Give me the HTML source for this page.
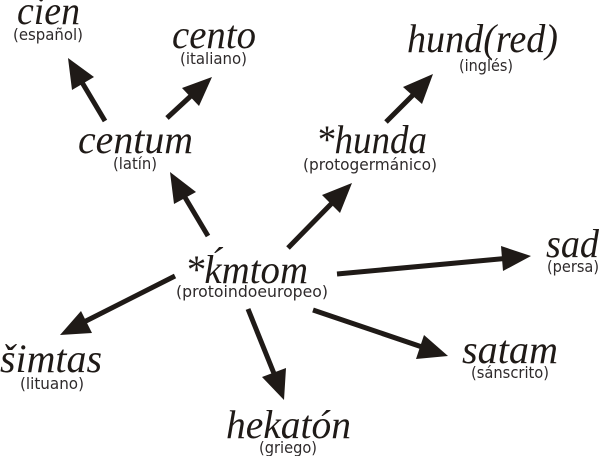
<!DOCTYPE html>
<html lang="es">
<head>
<meta charset="utf-8">
<style>
html,body{margin:0;padding:0;background:#fff;width:600px;height:456px;overflow:hidden}
svg{display:block}
.w{font-family:"Liberation Serif",serif;font-style:italic;font-size:40px;fill:#1f1a17}
.l{font-family:"DejaVu Sans",sans-serif;font-size:16px;fill:#2e2a2b}
.s{stroke:#1f1a17;stroke-width:5;fill:none}
.h{fill:#1f1a17}
</style>
</head>
<body>
<svg width="600" height="456" viewBox="0 0 600 456" xmlns="http://www.w3.org/2000/svg">
<g>
<line class="s" x1="105" y1="121" x2="80" y2="79"/><polygon class="h" points="68,58 72,90 94,77"/>
<line class="s" x1="167" y1="118" x2="193" y2="94"/><polygon class="h" points="212,77 182,88 199,106"/>
<line class="s" x1="208" y1="236" x2="183" y2="194"/><polygon class="h" points="170,172 174,204 196,192"/>
<line class="s" x1="386" y1="122" x2="415" y2="93"/><polygon class="h" points="433,74 403,87 422,104"/>
<line class="s" x1="288" y1="248" x2="334" y2="201"/><polygon class="h" points="352,183 322,195 340,213"/>
<line class="s" x1="337" y1="274" x2="510" y2="258"/><polygon class="h" points="531,256 501,246 503,271"/>
<line class="s" x1="313" y1="310" x2="425" y2="348"/><polygon class="h" points="448,356 424,335 416,359"/>
<line class="s" x1="248" y1="309" x2="275" y2="376"/><polygon class="h" points="284,400 262,377 286,368"/>
<line class="s" x1="175" y1="276" x2="82" y2="323"/><polygon class="h" points="60,335 81,311 92,333"/>
</g>
<g class="w">
<text x="17" y="24" textLength="63" lengthAdjust="spacingAndGlyphs">cien</text>
<text x="172" y="48" textLength="84" lengthAdjust="spacingAndGlyphs">cento</text>
<text x="78" y="153" textLength="115" lengthAdjust="spacingAndGlyphs">centum</text>
<text x="407" y="52" textLength="151" lengthAdjust="spacingAndGlyphs">hund(red)</text>
<text x="316" y="153" textLength="111" lengthAdjust="spacingAndGlyphs">*hunda</text>
<text x="185" y="283" textLength="123" lengthAdjust="spacingAndGlyphs">*ḱmtom</text>
<text x="0" y="372" textLength="102" lengthAdjust="spacingAndGlyphs">šimtas</text>
<text x="226" y="438" textLength="125" lengthAdjust="spacingAndGlyphs">hekatón</text>
<text x="462" y="363" textLength="96" lengthAdjust="spacingAndGlyphs">satam</text>
<text x="546" y="257" textLength="53" lengthAdjust="spacingAndGlyphs">sad</text>
</g>
<g class="l">
<text x="13" y="40" textLength="70" lengthAdjust="spacingAndGlyphs">(español)</text>
<text x="180" y="64" textLength="67" lengthAdjust="spacingAndGlyphs">(italiano)</text>
<text x="113" y="169" textLength="44" lengthAdjust="spacingAndGlyphs">(latín)</text>
<text x="459" y="71" textLength="54" lengthAdjust="spacingAndGlyphs">(inglés)</text>
<text x="303" y="170" textLength="134" lengthAdjust="spacingAndGlyphs">(protogermánico)</text>
<text x="176" y="297" textLength="152" lengthAdjust="spacingAndGlyphs">(protoindoeuropeo)</text>
<text x="20" y="389" textLength="64" lengthAdjust="spacingAndGlyphs">(lituano)</text>
<text x="259" y="453" textLength="58" lengthAdjust="spacingAndGlyphs">(griego)</text>
<text x="471" y="378" textLength="78" lengthAdjust="spacingAndGlyphs">(sánscrito)</text>
<text x="547" y="272" textLength="52" lengthAdjust="spacingAndGlyphs">(persa)</text>
</g>
</svg>
</body>
</html>
